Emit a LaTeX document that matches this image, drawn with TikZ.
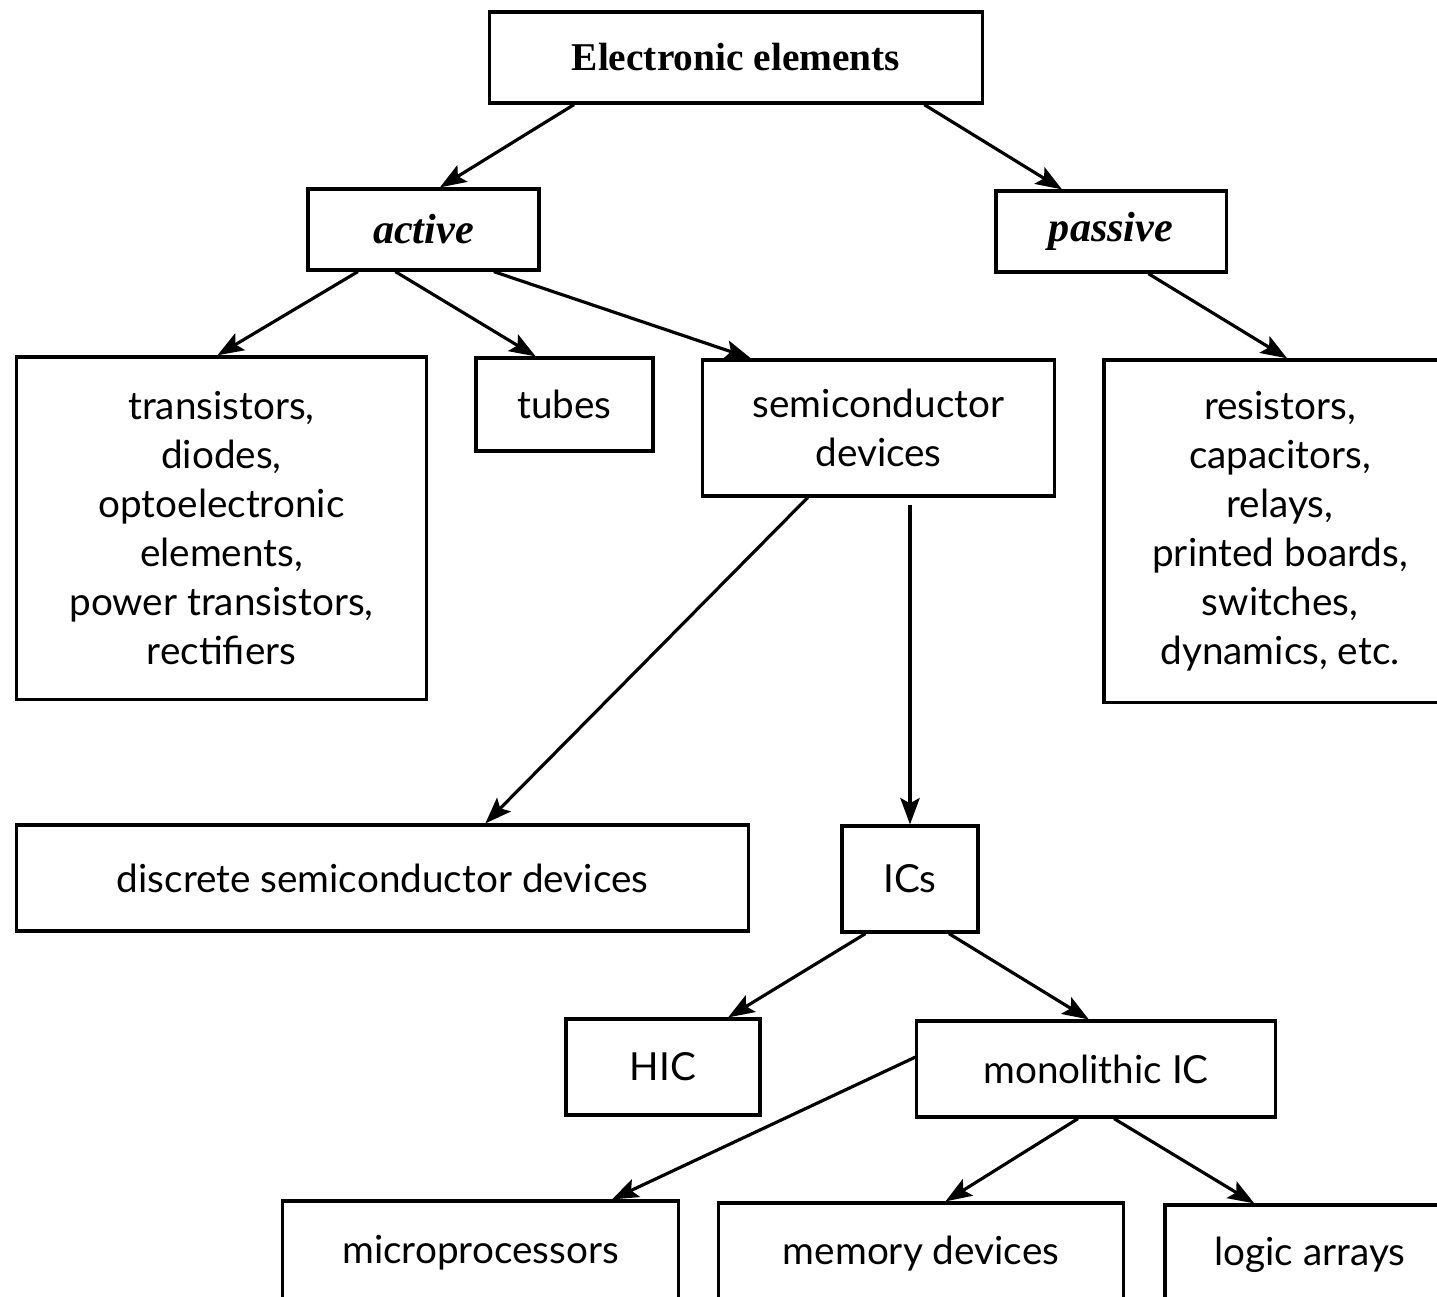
\documentclass[tikz,border=0pt]{standalone}
\usepackage{fontspec}
\setmainfont{Lato}
\newfontfamily\headfont{Liberation Serif}
\usepackage{tikz}
\usetikzlibrary{arrows.meta}
\usetikzlibrary{calc}

\tikzset{
  box/.style={draw, line width=0.9pt, align=center, inner sep=0pt, font=\fontsize{11}{13.9}\selectfont},
  head/.style={box, font=\headfont\bfseries\fontsize{11.2}{13}\selectfont},
  kind/.style={box, font=\headfont\bfseries\itshape\fontsize{12}{14}\selectfont},
  link/.style={line width=0.9pt, -{Stealth[length=7.5pt,width=5.5pt,inset=1.5pt]}}
}

\begin{document}
\begin{tikzpicture}[x=0.01cm, y=-0.01cm]
\useasboundingbox (0,0) rectangle (1437,1296);
\clip (0,0) rectangle (1437,1296);

% Top level
\node[head, minimum width=4.92cm, minimum height=0.91cm] (elem) at (736,57.5) {Electronic elements};
\node[kind, minimum width=2.31cm, minimum height=0.81cm] (active) at (423.5,229.5) {active};
\node[kind, minimum width=2.30cm, minimum height=0.81cm] (passive) at (1111,231.5) {passive};

% Second level
\node[box, minimum width=4.09cm, minimum height=3.42cm] (trans) at (221.5,528)
  {transistors,\\diodes,\\optoelectronic\\elements,\\power transistors,\\rectifiers};
\node[box, minimum width=1.77cm, minimum height=0.93cm] (tubes) at (564.5,404.5) {tubes};
\node[box, minimum width=3.51cm, minimum height=1.36cm] (semi) at (878.5,428) {semiconductor\\devices};
\node[box, minimum width=3.52cm, minimum height=3.42cm] (resist) at (1280,531)
  {resistors,\\capacitors,\\relays,\\printed boards,\\switches,\\dynamics, etc.};

% Semiconductor devices
\node[box, minimum width=7.31cm, minimum height=1.06cm] (discrete) at (382.5,878) {discrete semiconductor devices};
\node[box, minimum width=1.36cm, minimum height=1.06cm] (ics) at (910,879) {ICs};

% ICs
\node[box, minimum width=1.94cm, minimum height=0.96cm] (hic) at (663,1067) {HIC};
\node[box, minimum width=3.58cm, minimum height=0.96cm] (mono) at (1096,1069) {monolithic IC};

% Monolithic ICs
\node[box, minimum width=3.95cm, minimum height=1.04cm] (micro) at (480.5,1253) {microprocessors};
\node[box, minimum width=4.04cm, minimum height=1.02cm] (memory) at (921,1254) {memory devices};
\node[box, minimum width=2.90cm, minimum height=1.00cm] (logic) at (1310,1255) {logic arrays};

% Arrows
\draw[link] ($(elem.south west)!0.173!(elem.south east)$) -- ($(active.north west)!0.57!(active.north east)$);
\draw[link] ($(elem.south west)!0.88!(elem.south east)$) -- ($(passive.north west)!0.29!(passive.north east)$);
\draw[link] ($(active.south west)!0.22!(active.south east)$) -- ($(trans.north west)!0.49!(trans.north east)$);
\draw[link] ($(active.south west)!0.38!(active.south east)$) -- ($(tubes.north west)!0.34!(tubes.north east)$);
\draw[link] ($(active.south west)!0.80!(active.south east)$) -- ($(semi.north west)!0.14!(semi.north east)$);
\draw[link] ($(passive.south west)!0.66!(passive.south east)$) -- ($(resist.north west)!0.52!(resist.north east)$);
\draw[link] ($(semi.south west)!0.30!(semi.south east)$) -- ($(discrete.north west)!0.64!(discrete.north east)$);
\draw[link] ([yshift=-0.07cm]semi.south -| ics.north) -- (ics.north);
\draw[link] ($(ics.south west)!0.18!(ics.south east)$) -- ($(hic.north west)!0.83!(hic.north east)$);
\draw[link] ($(ics.south west)!0.78!(ics.south east)$) -- ($(mono.north west)!0.48!(mono.north east)$);
\draw[link] ($(mono.north west)!0.38!(mono.south west)$) -- ($(micro.north west)!0.83!(micro.north east)$);
\draw[link] ($(mono.south west)!0.45!(mono.south east)$) -- ($(memory.north west)!0.56!(memory.north east)$);
\draw[link] ($(mono.south west)!0.55!(mono.south east)$) -- ($(logic.north west)!0.31!(logic.north east)$);
\end{tikzpicture}
\end{document}
